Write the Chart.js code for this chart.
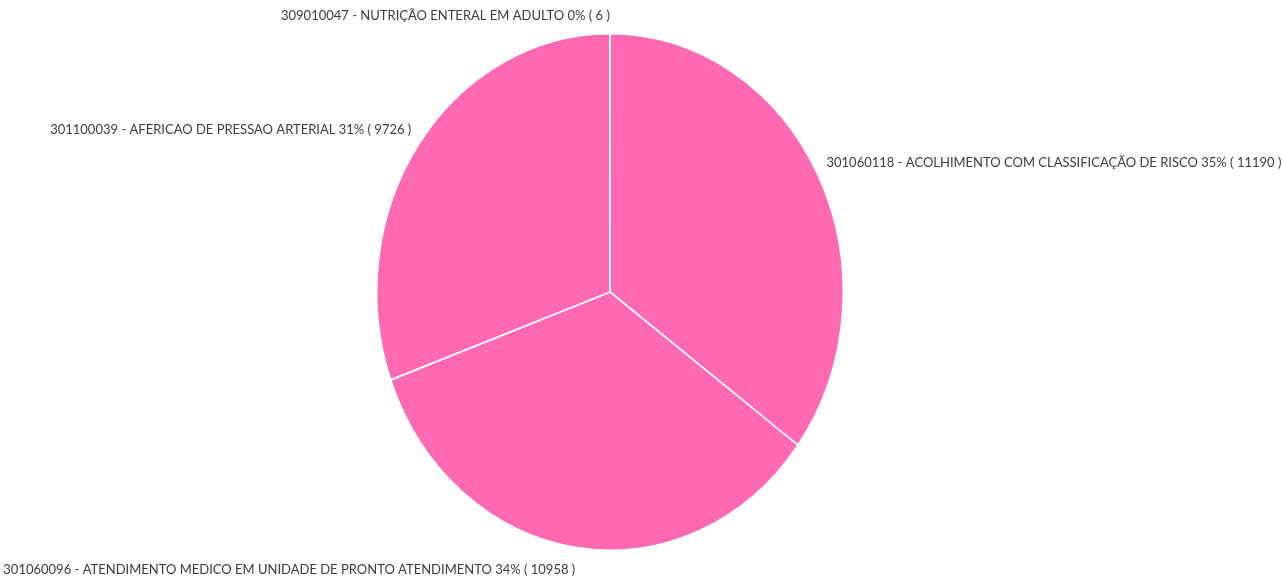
<!DOCTYPE html>
<html>
<head>
<meta charset="utf-8">
<script src="https://cdn.jsdelivr.net/npm/chart.js@4"></script>
<style>
  html, body { margin: 0; padding: 0; background: #fff; }
  #wrap { width: 1282px; height: 580px; }
</style>
</head>
<body>
<div id="wrap"><canvas id="chartCanvas" width="1282" height="580"></canvas></div>
<script>
// procedimentos (sentido horario a partir do topo)
var labels = [
  "301060118 - ACOLHIMENTO COM CLASSIFICAÇÃO DE RISCO",
  "301060096 - ATENDIMENTO MEDICO EM UNIDADE DE PRONTO ATENDIMENTO",
  "301100039 - AFERICAO DE PRESSAO ARTERIAL",
  "309010047 - NUTRIÇÃO ENTERAL EM ADULTO"
];
var values = [11190, 10958, 9726, 6];

var pieColor = "#ff69b4";
var stretchY = 258 / 233; // pizza achatada (elipse)

var stretchPlugin = {
  id: "stretch",
  beforeDatasetsDraw: function (chart) {
    var arc = chart.getDatasetMeta(0).data[0];
    var ctx = chart.ctx;
    ctx.save();
    ctx.translate(arc.x, arc.y);
    ctx.scale(1, stretchY);
    ctx.translate(-arc.x, -arc.y);
  },
  afterDatasetsDraw: function (chart) {
    chart.ctx.restore();
  }
};

var labelPlugin = {
  id: "sliceLabels",
  afterDraw: function (chart) {
    var ctx = chart.ctx;
    var total = values.reduce(function (a, b) { return a + b; }, 0);
    var meta = chart.getDatasetMeta(0);
    ctx.save();
    ctx.font = "13px Lato";
    ctx.fillStyle = "#3c3c3c";
    ctx.textBaseline = "middle";
    meta.data.forEach(function (arc, i) {
      var p = arc.getProps(["x", "y", "startAngle", "endAngle", "outerRadius"], true);
      var mid = (p.startAngle + p.endAngle) / 2;
      var dx = Math.cos(mid) * p.outerRadius * 1.04;
      var dy = Math.sin(mid) * p.outerRadius * stretchY * 1.04;
      var x = p.x + dx;
      var y = p.y + dy + (dy < 0 ? -8 : 12);
      ctx.textAlign = dx < 0 ? "right" : "left";
      var pct = Math.round(values[i] / total * 100);
      ctx.fillText(labels[i] + " " + pct + "% ( " + values[i] + " )", x, y);
    });
    ctx.restore();
  }
};

var ctx = document.getElementById("chartCanvas").getContext("2d");
var procChart = new Chart(ctx, {
  type: "pie",
  data: {
    labels: labels,
    datasets: [
      {
        data: values,
        backgroundColor: pieColor,
        borderColor: "#ffffff",
        borderWidth: 1.5
      }
    ]
  },
  options: {
    responsive: false,
    animation: false,
    layout: { padding: { left: 376, right: 438, top: 58, bottom: 54 } },
    plugins: {
      legend: { display: false },
      tooltip: { enabled: false }
    }
  },
  plugins: [stretchPlugin, labelPlugin]
});
</script>
</body>
</html>
